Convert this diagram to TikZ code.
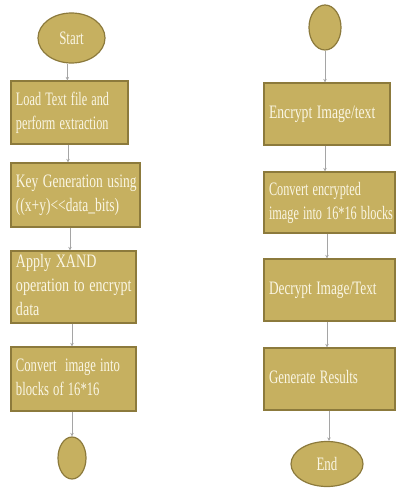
\documentclass[tikz,border=0pt]{standalone}
\usepackage{fontspec}
\setmainfont{Liberation Serif}
\usepackage{graphicx}
\usetikzlibrary{shapes.geometric,arrows.meta}
\definecolor{boxfill}{RGB}{198,176,96}
\definecolor{boxedge}{RGB}{140,122,60}
\definecolor{txtcol}{RGB}{250,246,228}
\definecolor{arrcol}{RGB}{165,165,165}
\newcommand\sqz[2]{\scalebox{#1}[1]{\begin{tabular}{@{}l@{}}#2\end{tabular}}}
\begin{document}
\begin{tikzpicture}[x=1pt,y=-1pt,
  stepbox/.style={draw=boxedge, line width=1.2pt, fill=boxfill, text=txtcol,
    inner sep=0pt, align=left, font=\fontsize{19}{24}\selectfont},
  term/.style={ellipse, draw=boxedge, line width=1.2pt, fill=boxfill, text=txtcol,
    inner sep=0pt, font=\fontsize{19}{24}\selectfont},
  flow/.style={draw=arrcol, line width=0.7pt, -{Stealth[length=3.5pt,width=3.5pt]}}]
\useasboundingbox (0,0) rectangle (396,492);

% left column
\node[term, minimum width=67pt, minimum height=50pt] (start) at (71.5,38) {\scalebox{0.68}[1]{Start}};
\node[stepbox, minimum width=117pt, minimum height=63pt, text width=107pt] (b1) at (69.5,112.5)
  {\sqz{0.645}{Load Text file and\\perform extraction}};
\node[stepbox, minimum width=129pt, minimum height=64pt, text width=119pt] (b2) at (75.5,195)
  {\sqz{0.71}{Key Generation using\\((x+y){<}{<}data\_bits)}};
\node[stepbox, minimum width=125pt, minimum height=70pt, text width=115pt] (b3) at (73.5,287)
  {\sqz{0.74}{Apply XAND\\operation to encrypt\\data}};
\node[stepbox, minimum width=125pt, minimum height=64pt, text width=115pt] (b4) at (73.5,379)
  {\sqz{0.665}{Convert\ \ image into\\blocks of 16*16}};
\node[term, minimum width=28pt, minimum height=42pt] (lcon) at (72,458) {};

% right column
\node[term, minimum width=32pt, minimum height=45pt] (rcon) at (325,27.5) {};
\node[stepbox, minimum width=126pt, minimum height=62pt, text width=116pt] (b5) at (327,114)
  {\sqz{0.72}{Encrypt Image/text}};
\node[stepbox, minimum width=131pt, minimum height=61pt, text width=121pt] (b6) at (329.5,202.5)
  {\sqz{0.645}{Convert encrypted\\image into 16*16 blocks}};
\node[stepbox, minimum width=131pt, minimum height=62pt, text width=121pt] (b7) at (329.5,290)
  {\sqz{0.70}{Decrypt Image/Text}};
\node[stepbox, minimum width=131pt, minimum height=62pt, text width=121pt] (b8) at (329.5,379)
  {\sqz{0.68}{Generate Results}};
\node[term, minimum width=72pt, minimum height=45pt] (end) at (327,464)
  {\scalebox{0.68}[1]{End}};

% connectors
\draw[flow] (start.south -| b1.north west) ++(57,0) coordinate (s1) -- (s1 |- b1.north);
\draw[flow] (b1.south) ++(-1.5,0) coordinate (s2) -- (s2 |- b2.north);
\draw[flow] (b2.south) ++(-5.5,0) coordinate (s3) -- (s3 |- b3.north);
\draw[flow] (b3.south) ++(-1.5,0) coordinate (s4) -- (s4 |- b4.north);
\draw[flow] (b4.south) ++(-1.5,0) coordinate (s5) -- (s5 |- lcon.north);

\draw[flow] (rcon.south) -- (rcon.south |- b5.north);
\draw[flow] (b5.south -| rcon.south) -- (rcon.south |- b6.north);
\draw[flow] (b6.south -| rcon.south) ++(2,0) coordinate (s8) -- (s8 |- b7.north);
\draw[flow] (b7.south -| rcon.south) ++(2,0) coordinate (s9) -- (s9 |- b8.north);
\draw[flow] (b8.south -| rcon.south) ++(4,0) coordinate (s10) -- (s10 |- end.north);
\end{tikzpicture}
\end{document}
